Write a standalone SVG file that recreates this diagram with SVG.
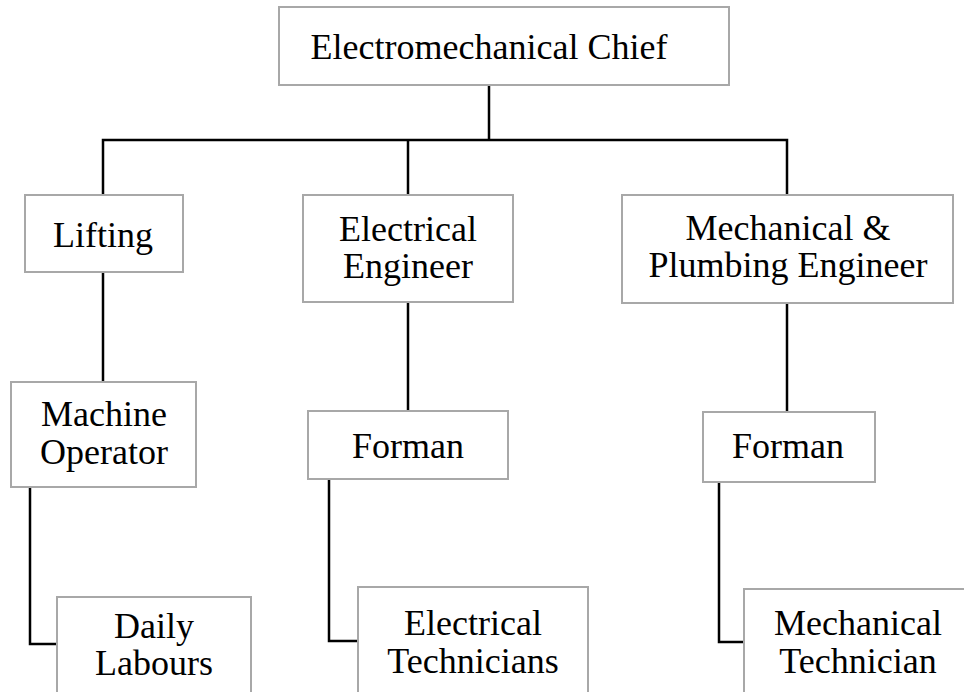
<svg xmlns="http://www.w3.org/2000/svg" width="964" height="692" viewBox="0 0 964 692">
  <style>
    .box { fill: #ffffff; stroke: #a8a8a8; stroke-width: 2; }
    .wire { fill: none; stroke: #000000; stroke-width: 2.5; stroke-linejoin: miter; }
    .nodes { font-family: "Liberation Serif", "Times New Roman", serif; font-size: 36px; fill: #000000; text-anchor: middle; }
  </style>
  <rect x="0" y="0" width="964" height="692" fill="#ffffff"/>

  <!-- reporting lines -->
  <g id="connectors">
    <path class="wire" d="M489 85 V140"/>
    <path class="wire" d="M103 195 V140 H787 V195"/>
    <path class="wire" d="M408 140 V195"/>
    <path class="wire" d="M103 272 V382"/>
    <path class="wire" d="M408 302 V411"/>
    <path class="wire" d="M787 303 V412"/>
    <path class="wire" d="M30 487 V644 H57"/>
    <path class="wire" d="M329 479 V641 H358"/>
    <path class="wire" d="M719 482 V642 H744"/>
  </g>

  <g class="nodes">
    <g id="chief">
      <rect class="box" x="279" y="7" width="450" height="78"/>
      <text x="489" y="59">Electromechanical Chief</text>
    </g>

    <g id="lifting">
      <rect class="box" x="25" y="195" width="158" height="77"/>
      <text x="103" y="247">Lifting</text>
    </g>

    <g id="electrical-engineer">
      <rect class="box" x="303" y="195" width="210" height="107"/>
      <text x="408" y="241">Electrical</text>
      <text x="408" y="278">Engineer</text>
    </g>

    <g id="mechanical-plumbing-engineer">
      <rect class="box" x="622" y="195" width="331" height="108"/>
      <text x="788" y="240">Mechanical &amp;</text>
      <text x="788" y="277">Plumbing Engineer</text>
    </g>

    <g id="machine-operator">
      <rect class="box" x="11" y="382" width="185" height="105"/>
      <text x="104" y="426">Machine</text>
      <text x="104" y="464">Operator</text>
    </g>

    <g id="forman-electrical">
      <rect class="box" x="308" y="411" width="200" height="68"/>
      <text x="408" y="458">Forman</text>
    </g>

    <g id="forman-mechanical">
      <rect class="box" x="703" y="412" width="172" height="70"/>
      <text x="788" y="458">Forman</text>
    </g>

    <g id="daily-labours">
      <rect class="box" x="57" y="597" width="194" height="110"/>
      <text x="154" y="638">Daily</text>
      <text x="154" y="675">Labours</text>
    </g>

    <g id="electrical-technicians">
      <rect class="box" x="358" y="587" width="230" height="120"/>
      <text x="473" y="635">Electrical</text>
      <text x="473" y="673">Technicians</text>
    </g>

    <g id="mechanical-technician">
      <rect class="box" x="744" y="589" width="230" height="120"/>
      <text x="858" y="635">Mechanical</text>
      <text x="858" y="673">Technician</text>
    </g>
  </g>
</svg>
